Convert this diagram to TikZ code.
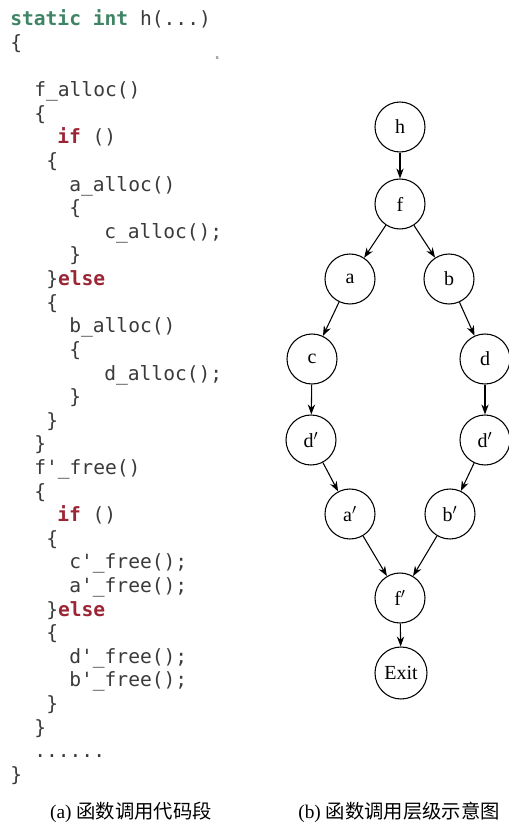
\documentclass[tikz,border=0pt]{standalone}
\usepackage{fontspec}
\setmainfont{Liberation Serif}
\newfontfamily\codefont{DejaVu Sans Mono}
\newfontfamily\cjk{Noto Sans CJK SC}
\usetikzlibrary{arrows.meta}
\definecolor{codegray}{HTML}{3A3A3A}
\definecolor{keygreen}{HTML}{3F8565}
\definecolor{keyred}{HTML}{9C2535}
\newcommand{\kwg}[1]{\textcolor{keygreen}{\bfseries #1}}
\newcommand{\kwr}[1]{\textcolor{keyred}{\bfseries #1}}
\begin{document}
\begin{tikzpicture}[x=0.75pt,y=-0.75pt,
  codeline/.style={anchor=base west,inner sep=0pt,text=codegray,font=\codefont\fontsize{14.7}{17}\selectfont},
  fnode/.style={circle,draw=black,line width=0.8pt,minimum size=37.5pt,inner sep=0pt,font=\fontsize{15}{18}\selectfont},
  arr/.style={-{Stealth[length=7.5pt,width=5.5pt]},line width=0.8pt},
  caption/.style={anchor=base,inner sep=0pt,font=\fontsize{14.5}{17}\selectfont}]
\useasboundingbox (0,0) rectangle (509,823);
\clip (0,0) rectangle (509,823);
% code listing
\node[codeline] (l0)  at (10,26.0)  {\kwg{static} \kwg{int} h(...)};
\node[codeline] (l1)  at (10,49.6)  {\{};
\node[codeline,text=gray!70] (dot) at (211,60) {.};
\node[codeline] (l3)  at (34,96.8)  {f\_alloc()};
\node[codeline] (l4)  at (34,120.4) {\{};
\node[codeline] (l5)  at (57,144.0) {\kwr{if} ()};
\node[codeline] (l6)  at (46,167.6) {\{};
\node[codeline] (l7)  at (69,191.2) {a\_alloc()};
\node[codeline] (l8)  at (69,214.8) {\{};
\node[codeline] (l9)  at (104,238.4) {c\_alloc();};
\node[codeline] (l10) at (69,262.0) {\}};
\node[codeline] (l11) at (46,285.6) {\}\kwr{else}};
\node[codeline] (l12) at (46,309.2) {\{};
\node[codeline] (l13) at (69,332.8) {b\_alloc()};
\node[codeline] (l14) at (69,356.4) {\{};
\node[codeline] (l15) at (104,380.0) {d\_alloc();};
\node[codeline] (l16) at (69,403.6) {\}};
\node[codeline] (l17) at (46,427.2) {\}};
\node[codeline] (l18) at (34,450.8) {\}};
\node[codeline] (l19) at (34,474.4) {f'\_free()};
\node[codeline] (l20) at (34,498.0) {\{};
\node[codeline] (l21) at (57,521.6) {\kwr{if} ()};
\node[codeline] (l22) at (46,545.2) {\{};
\node[codeline] (l23) at (69,568.8) {c'\_free();};
\node[codeline] (l24) at (69,592.4) {a'\_free();};
\node[codeline] (l25) at (46,616.0) {\}\kwr{else}};
\node[codeline] (l26) at (46,639.6) {\{};
\node[codeline] (l27) at (69,663.2) {d'\_free();};
\node[codeline] (l28) at (69,686.8) {b'\_free();};
\node[codeline] (l29) at (46,710.4) {\}};
\node[codeline] (l30) at (34,734.0) {\}};
\node[codeline] (l31) at (34,757.6) {......};
\node[codeline] (l32) at (10,781.2) {\}};
% call graph
\node[fnode] (h)  at (400,127) {h};
\node[fnode] (f)  at (400,204) {f};
\node[fnode] (a)  at (350,279) {a};
\node[fnode] (b)  at (449,279) {b};
\node[fnode] (c)  at (312,359) {c};
\node[fnode] (d)  at (485,359) {d};
\node[fnode] (dl) at (311,440) {d\ensuremath{'}};
\node[fnode] (dr) at (485,440) {d\ensuremath{'}};
\node[fnode] (ap) at (350,514) {a\ensuremath{'}};
\node[fnode] (bp) at (450,514) {b\ensuremath{'}};
\node[fnode] (fp) at (400,598) {f\ensuremath{'}};
\node[fnode,minimum size=39pt] (ex) at (401,673) {Exit};
\draw[arr] (h) -- (f);
\draw[arr] (f) -- (a);
\draw[arr] (f) -- (b);
\draw[arr] (a) -- (c);
\draw[arr] (b) -- (d);
\draw[arr] (c) -- (dl);
\draw[arr] (d) -- (dr);
\draw[arr] (dl) -- (ap);
\draw[arr] (dr) -- (bp);
\draw[arr] (ap) -- (fp);
\draw[arr] (bp) -- (fp);
\draw[arr] (fp) -- (ex);
% captions
\node[caption] (capa) at (131,818) {(a) {\cjk 函数调用代码段}};
\node[caption] (capb) at (399,818) {(b) {\cjk 函数调用层级示意图}};
\end{tikzpicture}
\end{document}
